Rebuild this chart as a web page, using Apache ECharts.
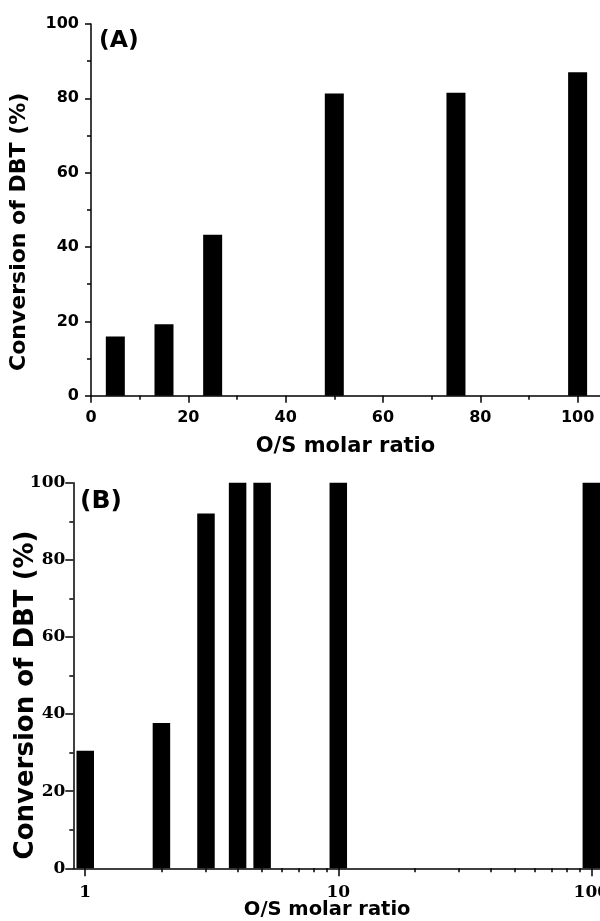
<!DOCTYPE html>
<html>
<head>
<meta charset="utf-8">
<script src="https://cdn.jsdelivr.net/npm/echarts@6/dist/echarts.min.js"></script>
<style>html,body{margin:0;padding:0;background:#fff}#c{width:600px;height:921px}</style>
</head>
<body>
<div id="c"></div>
<script>
// ---- data ----
const ratioA = [5, 15, 25, 50, 75, 100];
const convA = [15.9, 19.2, 43.3, 81.3, 81.5, 87.0];
const ratioB = [1, 2, 3, 4, 5, 10, 100];
const convB = [30.5, 37.7, 92.0, 100, 100, 100, 100];
const xTicksA = [0, 20, 40, 60, 80, 100];
const xMinorA = [10, 30, 50, 70, 90];
const xTicksB = [1, 10, 100];
const xMinorB = [2, 3, 4, 5, 6, 7, 8, 9, 20, 30, 40, 50, 60, 70, 80, 90];
const xName = 'O/S molar ratio';
const yName = 'Conversion of DBT (%)';

const SANS = 'DejaVu Sans';
const SERIF = 'DejaVu Serif';
const line = {color: '#000', width: 1.5};

const chart = echarts.init(document.getElementById('c'), null, {renderer: 'canvas'});

const gA = {left: 91, top: 24, right: 0, bottom: 525.3, outerBoundsMode: 'none', containLabel: false};
const gB = {left: 73.3, top: 482.7, right: 0, bottom: 52.7, outerBoundsMode: 'none', containLabel: false};

const option = {
  backgroundColor: '#fff',
  animation: false,
  grid: [gA, Object.assign({}, gA), gB, Object.assign({}, gB)],
  xAxis: [
    {
      gridIndex: 0, type: 'value', min: 0, max: 104.6,
      axisLine: {lineStyle: line},
      axisTick: {customValues: xTicksA, length: 7, lineStyle: line},
      axisLabel: {customValues: xTicksA, margin: 14, color: '#000', fontFamily: SANS, fontWeight: 'bold', fontSize: 16},
      splitLine: {show: false},
      name: xName, nameLocation: 'middle', nameGap: 40, nameMoveOverlap: false,
      nameTextStyle: {color: '#000', fontFamily: SANS, fontWeight: 'bold', fontSize: 21}
    },
    {
      gridIndex: 1, type: 'value', min: 0, max: 104.6,
      axisLine: {show: false},
      axisTick: {customValues: xMinorA, length: 4, lineStyle: line},
      axisLabel: {show: false},
      splitLine: {show: false}
    },
    {
      gridIndex: 2, type: 'log', logBase: 10, min: 0.897, max: 108.2,
      axisLine: {lineStyle: line},
      axisTick: {customValues: xTicksB, length: 8, lineStyle: line},
      axisLabel: {customValues: xTicksB, margin: 16, color: '#000', fontFamily: SERIF, fontWeight: 'bold', fontSize: 17},
      splitLine: {show: false},
      minorTick: {show: false},
      name: xName, nameLocation: 'middle', nameGap: 32, nameMoveOverlap: false,
      nameTextStyle: {color: '#000', fontFamily: SANS, fontWeight: 'bold', fontSize: 19.5, padding: [0, 19, 0, 0]}
    },
    {
      gridIndex: 3, type: 'log', logBase: 10, min: 0.897, max: 108.2,
      axisLine: {show: false},
      axisTick: {customValues: xMinorB, length: 4, lineStyle: line},
      axisLabel: {show: false},
      splitLine: {show: false}
    }
  ],
  yAxis: [
    {
      gridIndex: 0, type: 'value', min: 0, max: 100, interval: 20,
      axisLine: {show: true, lineStyle: line},
      axisTick: {show: true, length: 6, lineStyle: line},
      minorTick: {show: true, splitNumber: 2, length: 4, lineStyle: line},
      axisLabel: {margin: 12, color: '#000', fontFamily: SANS, fontWeight: 'bold', fontSize: 16},
      splitLine: {show: false},
      name: yName, nameLocation: 'middle', nameGap: 61, nameMoveOverlap: false,
      nameTextStyle: {color: '#000', fontFamily: SANS, fontWeight: 'bold', fontSize: 22, padding: [0, 44, 0, 0]}
    },
    {gridIndex: 1, type: 'value', min: 0, max: 100, show: false},
    {
      gridIndex: 2, type: 'value', min: 0, max: 100, interval: 20,
      axisLine: {show: true, lineStyle: line},
      axisTick: {show: true, length: 8, lineStyle: line},
      minorTick: {show: true, splitNumber: 2, length: 4, lineStyle: line},
      axisLabel: {margin: 8, color: '#000', fontFamily: SERIF, fontWeight: 'bold', fontSize: 17},
      splitLine: {show: false},
      name: yName, nameLocation: 'middle', nameGap: 34, nameMoveOverlap: false,
      nameTextStyle: {color: '#000', fontFamily: SANS, fontWeight: 'bold', fontSize: 26, padding: [0, 39, 0, 0]}
    },
    {gridIndex: 3, type: 'value', min: 0, max: 100, show: false}
  ],
  series: [
    {
      type: 'bar', xAxisIndex: 0, yAxisIndex: 0, barWidth: 19,
      itemStyle: {color: '#000'},
      data: ratioA.map((x, i) => [x, convA[i]])
    },
    {
      type: 'bar', xAxisIndex: 2, yAxisIndex: 2, barWidth: 17.5,
      itemStyle: {color: '#000'},
      data: ratioB.map((x, i) => [x, convB[i]])
    }
  ],
  graphic: [
    {type: 'text', left: 99, top: 29, style: {text: '(A)', fill: '#000', font: 'bold 23.5px "DejaVu Sans"'}},
    {type: 'text', left: 80, top: 489, style: {text: '(B)', fill: '#000', font: 'bold 25px "DejaVu Sans"'}}
  ]
};
chart.setOption(option);
</script>
</body>
</html>
